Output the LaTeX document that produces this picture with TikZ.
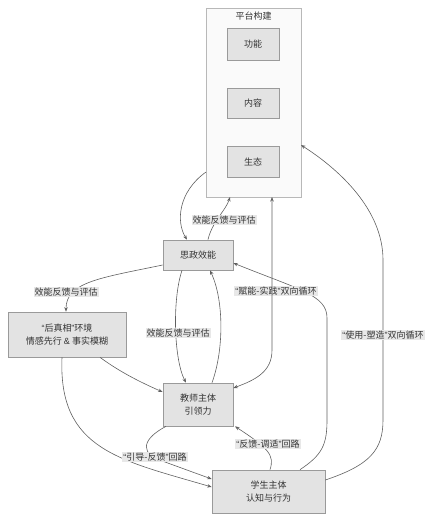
\documentclass[tikz,border=0pt]{standalone}
\usepackage{fontspec}
\newfontfamily\cjk{Noto Sans CJK SC}
\newfontfamily\latq{Liberation Sans}
\newcommand\qo{{\latq “}}
\newcommand\qc{{\latq ”}}
\usetikzlibrary{arrows.meta}
\definecolor{edgec}{HTML}{606060}
\definecolor{boxfill}{HTML}{E3E3E3}
\definecolor{boxdraw}{HTML}{9A9A9A}
\definecolor{clfill}{HTML}{FAFAFA}
\definecolor{clusterdraw}{HTML}{B8B8B8}
\definecolor{txt}{HTML}{333333}
\definecolor{lblbg}{HTML}{E8E8E8}
\tikzset{
  box/.style={draw=boxdraw, fill=boxfill, line width=0.7pt, inner sep=0pt, font=\cjk\fontsize{9}{13}\selectfont, text=txt, align=center},
  lbl/.style={fill=lblbg, inner sep=1pt, font=\cjk\fontsize{9}{11}\selectfont, text=txt},
  edge/.style={draw=edgec, line width=0.6pt, -{Stealth[length=4.5pt,width=3.5pt]}},
}
\begin{document}
\begin{tikzpicture}[x=1pt,y=-1pt]
\useasboundingbox (0,0) rectangle (428,517);
% cluster
\node[draw=clusterdraw, fill=clfill, line width=0.7pt, minimum width=95pt, minimum height=189pt, inner sep=0pt] (cl) at (253.5,102.5) {};
\node[font=\cjk\fontsize{9}{11}\selectfont, text=txt] (cltitle) at (253.5,16) {平台构建};
\node[box, minimum width=52pt, minimum height=32pt] (gn) at (253,44) {功能};
\node[box, minimum width=52pt, minimum height=30pt] (nr) at (253,103) {内容};
\node[box, minimum width=52pt, minimum height=31pt] (st) at (253,161.5) {生态};
% nodes
\node[box, minimum width=70pt, minimum height=30pt] (sz) at (198,255) {思政效能};
\node[box, minimum width=118pt, minimum height=45pt] (hz) at (67,334.5) {\qo 后真相\qc 环境\\情感先行 {\latq\&} 事实模糊};
\node[box, minimum width=70pt, minimum height=43pt] (js) at (198,404.5) {教师主体\\引领力};
\node[box, minimum width=113pt, minimum height=43pt] (xs) at (268.5,491.5) {学生主体\\认知与行为};
% coordinates on borders
\coordinate (clL) at (206,172);
\coordinate (clB1) at (230,197);
\coordinate (clB2) at (272,197);
\coordinate (clR) at (301,145);
% edges
\draw[edge] (clL) .. controls (178,192) and (176,222) .. (sz.north west -| 187,240);
\draw[edge] (sz.north -| 208,240) .. controls (212,222) and (226,210) .. (clB1);
\node[lbl] (l1) at (224,220) {效能反馈与评估};
\draw[edge] (sz.west |- 163,265) .. controls (100,278) and (66,282) .. (hz.north -| 66,312);
\node[lbl] (l2) at (66,292) {效能反馈与评估};
\draw[edge] (sz.south -| 182,270) .. controls (172,300) and (174,360) .. (js.north -| 186,383);
\node[lbl] (l3) at (178,333) {效能反馈与评估};
\draw[edge] (js.north -| 212,383) .. controls (224,350) and (224,300) .. (sz.south -| 210,270);
\draw[edge] (hz.south -| 100,357) .. controls (120,372) and (140,382) .. (js.west |- 163,392);
\draw[edge] (hz.south -| 62,357) .. controls (58,450) and (120,460) .. (xs.west |- 212,487);
\draw[edge] (js.south -| 166,426) .. controls (140,440) and (140,455) .. (165,462) -- (xs.west |- 212,479);
\node[lbl] (l4) at (155,457) {\qo 引导-反馈\qc 回路};
\draw[edge] (xs.north -| 270,470) .. controls (275,455) and (268,448) .. (js.south east -| 235,427);
\node[lbl] (l5) at (268,444) {\qo 反馈-调适\qc 回路};
\draw[edge] (xs.north -| 300,470) .. controls (322,455) and (327,445) .. (327,420) -- (327,318) .. controls (327,295) and (300,290) .. (sz.east |- 233,263);
\node[lbl] (l6) at (276,291) {\qo 赋能-实践\qc 双向循环};
\draw[edge, {Stealth[length=4.5pt,width=3.5pt]}-{Stealth[length=4.5pt,width=3.5pt]}] (clB2) -- (272,350) .. controls (272,372) and (255,380) .. (js.east |- 233,388);
\draw[edge] (xs.east |- 325,480) .. controls (370,465) and (383,450) .. (383,420) -- (383,260) .. controls (383,210) and (340,170) .. (clR);
\node[lbl] (l7) at (383,335) {\qo 使用-塑造\qc 双向循环};
\end{tikzpicture}
\end{document}
